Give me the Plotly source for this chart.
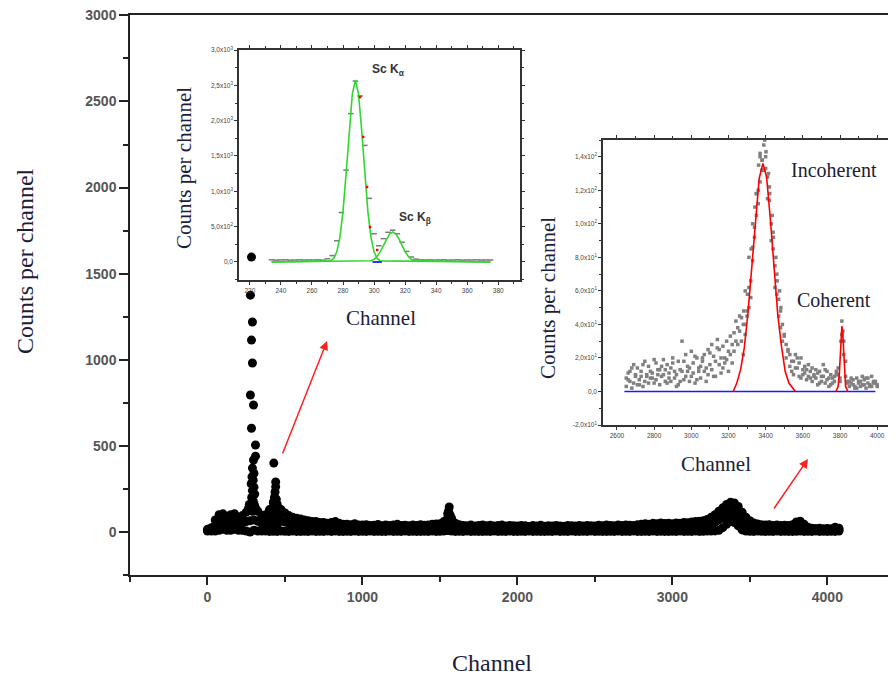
import plotly.graph_objects as go

# ---- main spectrum (channels every 25, three rows of points per channel) ----
channels = list(range(0, 4100, 25))

counts_hi = [
    15, 25, 70, 100, 105, 90, 100, 105,
    85, 95, 115, 130, 140, 120, 95, 100,
    130, 170, 160, 130, 110, 95, 85, 80,
    75, 70, 65, 60, 60, 55, 55, 50,
    55, 60, 50, 45, 45, 42, 48, 40,
    40, 42, 37, 39, 43, 36, 41, 38,
    40, 44, 37, 39, 36, 41, 38, 42,
    39, 40, 44, 46, 48, 60, 105, 80,
    50, 42, 38, 36, 40, 34, 38, 41,
    36, 39, 34, 37, 40, 35, 38, 36,
    34, 38, 36, 32, 37, 35, 39, 33,
    36, 34, 38, 35, 33, 37, 36, 34,
    38, 35, 37, 36, 34, 39, 36, 41,
    38, 36, 40, 37, 41, 39, 38, 42,
    44, 48, 45, 50, 47, 52, 49, 50,
    48, 52, 50, 55, 53, 58, 60, 62,
    65, 72, 85, 100, 120, 140, 160, 172,
    168, 148, 115, 85, 65, 52, 46, 42,
    40, 42, 38, 40, 37, 39, 38, 42,
    58, 62, 45, 28, 22, 20, 22, 18,
    20, 18, 28, 22,
]
counts_mid = [
    8, 12, 38, 55, 60, 50, 55, 58,
    48, 52, 60, 65, 70, 62, 50, 52,
    68, 90, 85, 68, 58, 50, 45, 42,
    40, 37, 34, 32, 31, 29, 28, 26,
    28, 30, 26, 22, 23, 21, 24, 20,
    21, 22, 19, 20, 22, 18, 21, 19,
    20, 23, 18, 20, 19, 21, 18, 22,
    20, 21, 22, 24, 25, 32, 60, 45,
    26, 22, 20, 18, 21, 17, 19, 21,
    18, 20, 17, 19, 21, 18, 19, 18,
    17, 19, 18, 16, 19, 18, 20, 17,
    18, 17, 19, 18, 17, 19, 18, 17,
    19, 18, 19, 18, 17, 20, 18, 21,
    19, 18, 20, 19, 21, 20, 19, 22,
    23, 25, 23, 26, 24, 27, 25, 26,
    25, 27, 26, 28, 27, 30, 31, 32,
    34, 38, 45, 55, 70, 95, 110, 118,
    112, 98, 70, 48, 35, 28, 24, 22,
    20, 21, 19, 20, 18, 20, 19, 21,
    30, 32, 24, 15, 12, 11, 12, 10,
    11, 10, 15, 12,
]
counts_lo = [
    5, 5, 5, 10, 15, 10, 10, 15,
    10, 10, 5, 0, 10, 5, 5, 5,
    3, 4, 3, 5, 4, 3, 5, 3,
    3, 4, 3, 5, 3, 4, 3, 5,
    3, 5, 3, 3, 4, 3, 5, 3,
    4, 3, 5, 3, 4, 3, 3, 5,
    3, 4, 3, 5, 3, 4, 3, 3,
    4, 3, 5, 3, 4, 5, 8, 5,
    3, 4, 3, 5, 3, 4, 3, 3,
    4, 3, 5, 3, 4, 3, 5, 3,
    3, 4, 3, 5, 3, 4, 3, 3,
    4, 3, 5, 3, 4, 3, 5, 3,
    3, 4, 3, 5, 3, 4, 3, 3,
    4, 3, 5, 3, 4, 3, 5, 3,
    3, 4, 3, 5, 3, 4, 3, 3,
    4, 3, 5, 3, 4, 3, 5, 3,
    4, 5, 5, 6, 10, 25, 45, 60,
    55, 35, 12, 5, 4, 3, 5, 4,
    3, 4, 3, 5, 3, 4, 3, 3,
    4, 5, 3, 4, 3, 5, 3, 4,
    3, 4, 3, 5,
]

# isolated / extra points (Sc K peak column, second peak, humps)
peak_ch = [284, 277, 290, 284, 290, 277, 297, 284, 310, 310, 297, 290, 300, 287,
           295, 282, 300, 290, 305, 285, 295, 302, 280, 310, 290, 270, 265,
           428, 440, 440, 436, 432, 444, 426, 448, 410, 425, 440, 450, 465, 430,
           1560, 1555, 1565, 1550,
           3360, 3390, 3340, 3410, 3420]
peak_counts = [1596, 1375, 1219, 1114, 981, 795, 737, 602, 505, 440, 418, 371, 340, 320,
               300, 280, 260, 240, 220, 200, 180, 160, 150, 140, 120, 160, 140,
               400, 290, 262, 232, 200, 190, 175, 150, 35, 40, 130, 40, 110, 130,
               145, 120, 100, 80,
               140, 85, 80, 140, 90]

# ---- inset 1 : Sc K alpha / K beta ----
sc_ch = [234, 237, 240, 243, 246, 249, 252, 255, 258, 261, 264, 267,
         270, 273, 276, 279, 282, 285, 288, 291, 294, 297, 300, 303, 306, 309,
         312, 315, 318, 321, 324, 327, 330,
         333, 336, 339, 342, 345, 348, 351, 354, 357, 360, 363, 366, 369, 372, 375]
sc_counts = [30, 27, 29, 31, 26, 28, 30, 27, 29, 28, 30, 26,
             45, 90, 300, 700, 1300, 2100, 2560, 2350, 1650, 900, 400, 230, 330, 420,
             450, 400, 280, 150, 70, 40, 30,
             28, 30, 27, 29, 31, 26, 28, 30, 27, 29, 28, 30, 27, 29, 28]
sc_red_ch = [291, 293, 295.5, 297.4, 302]
sc_red_counts = [2335, 1770, 1061, 495, 170]

ka_ch = [234, 272, 274, 276, 278, 280, 282, 284, 286, 288, 290, 292, 294, 296, 298,
         300, 302, 304, 375]
ka_fit = [0, 15, 51, 144, 348, 716, 1253, 1870, 2377, 2575, 2377, 1870, 1253, 716, 348,
          144, 51, 15, 0]
kb_ch = [234, 298, 300, 302, 304, 306, 308, 310, 312, 314, 316, 318, 320, 322, 324, 326, 375]
kb_fit = [0, 17, 39, 81, 147, 234, 326, 397, 424, 397, 326, 234, 147, 81, 39, 17, 0]

# ---- inset 2 : incoherent / coherent scatter ----
inc_ch = [2650, 2670, 2690, 2710, 2730, 2750, 2770, 2790, 2810, 2830,
          2850, 2870, 2890, 2910, 2930, 2950, 2970, 2990, 3010, 3030,
          3050, 3070, 3090, 3110, 3130, 3150, 3170, 3190, 3210, 3230,
          3250, 3270, 3290, 3310, 3330, 3350, 3370, 3390, 3410, 3430,
          3450, 3470, 3490, 3510, 3530, 3550, 3570, 3590, 3610, 3630,
          3650, 3670, 3690, 3710, 3730, 3750, 3770, 3790, 3810, 3830,
          3850, 3870, 3890, 3910, 3930, 3950, 3970, 3990]
inc_a = [8, 12, 5, 14, 9, 6, 15, 11, 7, 13,
         10, 16, 6, 12, 18, 30, 9, 14, 11, 20,
         15, 22, 10, 28, 18, 25, 14, 30, 22, 35,
         38, 30, 40, 62, 86, 118, 140, 147, 128, 100,
         75, 55, 40, 28, 22, 18, 14, 20, 11, 16,
         14, 8, 12, 16, 7, 10, 6, 10, 42, 18,
         6, 4, 8, 3, 7, 5, 9, 6]
inc_b = [3, 6, 16, 4, 12, 18, 5, 8, 17, 4,
         19, 5, 14, 8, 4, 12, 22, 6, 17, 7,
         8, 12, 25, 13, 9, 16, 27, 19, 33, 24,
         28, 44, 34, 50, 78, 105, 125, 132, 115, 90,
         62, 45, 30, 20, 15, 10, 20, 8, 15, 9,
         6, 13, 5, 9, 12, 4, 9, 14, 34, 9,
         3, 7, 2, 6, 4, 8, 3, 5]
# second row of channels, offset by 10
inc_ch2 = [c + 10 for c in inc_ch]
inc_c = [11, 2, 9, 7, 3, 10, 8, 19, 10, 15,
         6, 11, 20, 3, 13, 7, 15, 24, 5, 12,
         20, 6, 16, 21, 26, 11, 20, 12, 17, 42,
         45, 22, 48, 56, 92, 112, 132, 140, 122, 95,
         70, 38, 34, 25, 12, 22, 9, 13, 7, 12,
         10, 4, 9, 5, 3, 8, 12, 6, 30, 6,
         8, 2, 5, 9, 2, 4, 6, 3]
inc_d = [7, 14, 10, 4, 16, 9, 12, 5, 13, 9,
         13, 8, 17, 10, 6, 18, 12, 9, 21, 14,
         18, 14, 23, 9, 31, 20, 17, 24, 28, 30,
         36, 40, 45, 66, 98, 120, 138, 133, 114, 85,
         58, 48, 33, 24, 18, 14, 17, 10, 13, 8,
         9, 11, 6, 13, 8, 5, 10, 8, 22, 5,
         5, 3, 6, 4, 8, 3, 5, 4]
inc_peak_ch = [3290, 3310, 3330, 3350, 3370, 3395, 3415, 3435, 3455, 3475,
               3282, 3302, 3322, 3342, 3362, 3382, 3402, 3422, 3442, 3462, 3482,
               3805, 3815]
inc_peak_counts = [60, 80, 100, 118, 142, 150, 130, 105, 80, 60,
                   48, 58, 85, 110, 135, 138, 143, 118, 92, 66, 50,
                   30, 36]

incoh_ch = [3225, 3245, 3265, 3285, 3305, 3325, 3345, 3365, 3385, 3405, 3425, 3445,
            3465, 3485, 3505, 3525, 3545, 3560]
incoh_fit = [0, 5, 13, 26, 47, 75, 104, 127, 136, 128, 103, 76, 46, 27, 12, 5, 2, 0]
coh_ch = [3778, 3790, 3797, 3802, 3806, 3810, 3814, 3818, 3823, 3830, 3842]
coh_fit = [0, 3, 12, 25, 36, 39, 36, 25, 12, 3, 0]

W, H = 896, 682
OFF = 8  # page body margin in the browser
title_color = "#1c1c3c"
serif = "Liberation Serif, Times New Roman, serif"
sans = "Liberation Sans, Arial, sans-serif"


def fx(px):
    return (px - OFF) / W


def fy(py):
    return (H - py + OFF) / H


fig = go.Figure()

fig.add_trace(go.Scatter(
    x=channels + channels + channels + peak_ch,
    y=counts_hi + counts_mid + counts_lo + peak_counts,
    mode="markers",
    marker=dict(color="black", size=9),
    xaxis="x", yaxis="y",
))

# inset 1
fig.add_trace(go.Scatter(x=sc_ch, y=sc_counts, mode="markers",
                         marker=dict(color="#7a7a7a", size=4, symbol="line-ew",
                                     line=dict(color="#7a7a7a", width=1.5)),
                         xaxis="x2", yaxis="y2"))
fig.add_trace(go.Scatter(x=ka_ch, y=ka_fit, mode="lines",
                         line=dict(color="#2ed82e", width=1.6), xaxis="x2", yaxis="y2"))
fig.add_trace(go.Scatter(x=kb_ch, y=kb_fit, mode="lines",
                         line=dict(color="#2ed82e", width=1.6), xaxis="x2", yaxis="y2"))
fig.add_trace(go.Scatter(x=sc_red_ch, y=sc_red_counts, mode="markers",
                         marker=dict(color="red", size=2.5, symbol="square"),
                         xaxis="x2", yaxis="y2"))
fig.add_trace(go.Scatter(x=[299, 305], y=[0, 0], mode="lines",
                         line=dict(color="#3030ff", width=2), xaxis="x2", yaxis="y2"))

# inset 2
fig.add_trace(go.Scatter(x=inc_ch + inc_ch + inc_ch2 + inc_ch2 + inc_peak_ch,
                         y=inc_a + inc_b + inc_c + inc_d + inc_peak_counts,
                         mode="markers",
                         marker=dict(color="#808080", size=3.5, symbol="square"),
                         xaxis="x3", yaxis="y3"))
fig.add_trace(go.Scatter(x=[2640, 3990], y=[0, 0], mode="lines",
                         line=dict(color="#1a1aff", width=1.6), xaxis="x3", yaxis="y3"))
fig.add_trace(go.Scatter(x=incoh_ch, y=incoh_fit, mode="lines",
                         line=dict(color="red", width=1.6), xaxis="x3", yaxis="y3"))
fig.add_trace(go.Scatter(x=coh_ch, y=coh_fit, mode="lines",
                         line=dict(color="red", width=1.6), xaxis="x3", yaxis="y3"))

tickfont_main = dict(family=sans, size=14, color="#555")
tickfont_small = dict(family=sans, size=6.5, color="#444")
frame = dict(showline=True, linecolor="#333", linewidth=1.5, showgrid=False,
             zeroline=False, ticks="outside", tickcolor="#333", tickwidth=1,
             ticklen=3, mirror="ticks", tickfont=tickfont_small, automargin=False)

fig.update_layout(
    width=W, height=H,
    margin=dict(l=0, r=0, t=0, b=0, autoexpand=False),
    paper_bgcolor="white", plot_bgcolor="rgba(0,0,0,0)",
    showlegend=False,
    xaxis=dict(domain=[fx(130), fx(896)], range=[-500, 4443], showline=True,
               linecolor="#222", linewidth=1.5, mirror=True, showgrid=False,
               zeroline=False, ticks="outside", ticklen=8, tickwidth=1.5,
               tickcolor="#222", tickvals=[0, 1000, 2000, 3000, 4000],
               ticktext=["<b>0</b>", "<b>1000</b>", "<b>2000</b>", "<b>3000</b>",
                         "<b>4000</b>"],
               minor=dict(tickvals=[-500, 500, 1500, 2500, 3500], ticks="outside",
                          ticklen=5, tickcolor="#222"),
               tickfont=tickfont_main, anchor="y", automargin=False,
               ticklabeloverflow="allow"),
    yaxis=dict(domain=[fy(575), fy(15)], range=[-250, 3002], showline=True,
               linecolor="#222", linewidth=1.5, showgrid=False, zeroline=False,
               ticks="outside", ticklen=9, tickwidth=1.5, tickcolor="#222",
               tickvals=[0, 500, 1000, 1500, 2000, 2500, 3000],
               ticktext=["<b>0</b>", "<b>500</b>", "<b>1000</b>", "<b>1500</b>",
                         "<b>2000</b>", "<b>2500</b>", "<b>3000</b>"],
               minor=dict(tickvals=[-250, 250, 750, 1250, 1750, 2250, 2750],
                          ticks="outside", ticklen=5, tickcolor="#222"),
               tickfont=tickfont_main, anchor="x", automargin=False,
               ticklabeloverflow="allow"),
    xaxis2=dict(frame, domain=[fx(239), fx(520)], range=[213, 394], anchor="y2",
                tickvals=[220, 240, 260, 280, 300, 320, 340, 360, 380],
                minor=dict(dtick=10, ticks="outside", ticklen=2)),
    yaxis2=dict(frame, domain=[fy(280), fy(50)], range=[-255, 3000],
                anchor="x2", tickvals=[0, 500, 1000, 1500, 2000, 2500, 3000],
                ticktext=["0,0", "5,0x10<sup>2</sup>", "1,0x10<sup>3</sup>",
                          "1,5x10<sup>3</sup>", "2,0x10<sup>3</sup>",
                          "2,5x10<sup>3</sup>", "3,0x10<sup>3</sup>"],
                minor=dict(dtick=250, ticks="outside", ticklen=2)),
    xaxis3=dict(frame, domain=[fx(603), fx(893)], range=[2525, 4085], anchor="y3",
                tickvals=[2600, 2800, 3000, 3200, 3400, 3600, 3800, 4000],
                minor=dict(dtick=100, ticks="outside", ticklen=2)),
    yaxis3=dict(frame, domain=[fy(425), fy(140)], range=[-20, 150],
                anchor="x3", tickvals=[-20, 0, 20, 40, 60, 80, 100, 120, 140],
                ticktext=["-2,0x10<sup>1</sup>", "0,0", "2,0x10<sup>1</sup>",
                          "4,0x10<sup>1</sup>", "6,0x10<sup>1</sup>",
                          "8,0x10<sup>1</sup>", "1,0x10<sup>2</sup>",
                          "1,2x10<sup>2</sup>", "1,4x10<sup>2</sup>"],
                minor=dict(dtick=10, ticks="outside", ticklen=2)),
)


def label(text, px, py, size, angle=0, family=serif, color=title_color):
    fig.add_annotation(text=text, x=fx(px), y=fy(py), xref="paper", yref="paper",
                       xanchor="center", yanchor="middle",
                       showarrow=False, textangle=angle,
                       font=dict(family=family, size=size, color=color))


label("Counts per channel", 25, 261, 24, angle=-90)
label("Channel", 492, 663, 24)
label("Counts per channel", 184, 168, 21, angle=-90)
label("Channel", 381, 318, 21)
label("Counts per channel", 548, 298, 21, angle=-90)
label("Channel", 716, 464, 21)
label("Incoherent", 834, 170, 20, color="#202030")
label("Coherent", 834, 300, 20, color="#202030")
label("<b>Sc K<sub>α</sub></b>", 388, 70, 12, family=sans, color="#333")
label("<b>Sc K<sub>β</sub></b>", 415, 218, 12, family=sans, color="#333")

# red arrows pointing at the insets
for head, tail in [((327, 341), (282, 455)), ((808, 459), (773, 510))]:
    fig.add_annotation(x=fx(head[0]), y=fy(head[1]), xref="paper", yref="paper",
                       ax=tail[0] - head[0], ay=tail[1] - head[1], text="",
                       showarrow=True, arrowhead=2, arrowsize=1.2, arrowwidth=1.5,
                       arrowcolor="#ff2020")

fig.write_html("out.html")
